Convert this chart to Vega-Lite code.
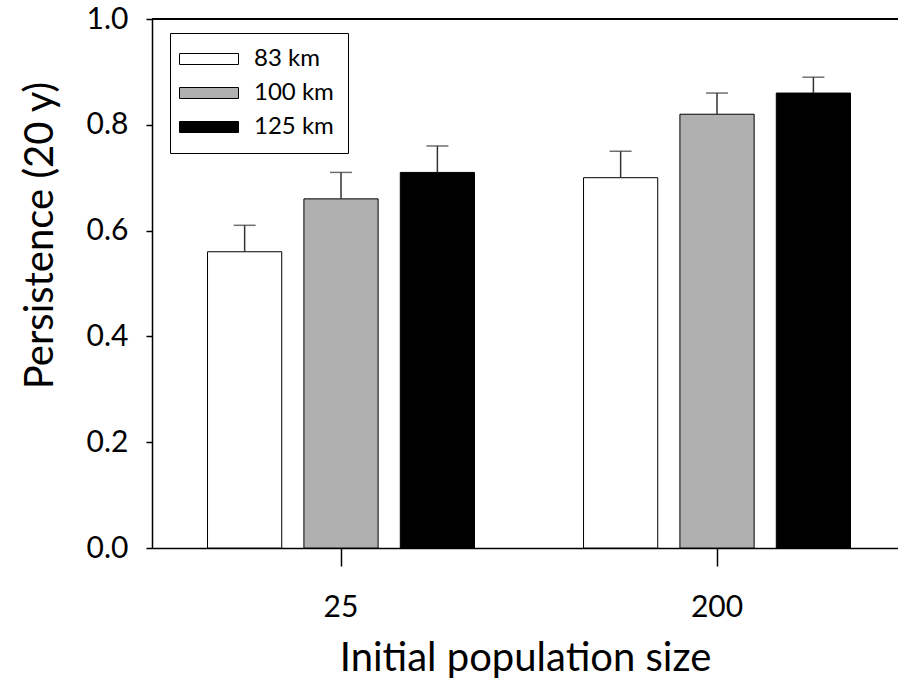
{
  "$schema": "https://vega.github.io/schema/vega-lite/v6.json",
  "width": 746,
  "height": 529,
  "autosize": {"type": "none"},
  "padding": {"left": 152, "top": 19, "right": 0, "bottom": 136},
  "config": {
    "font": "Lato",
    "view": {"stroke": null},
    "axis": {
      "domainColor": "black",
      "domainWidth": 1.5,
      "tickColor": "black",
      "tickWidth": 1.5,
      "labelColor": "black",
      "titleColor": "black",
      "labelFont": "Lato",
      "titleFont": "Lato",
      "labelFontSize": 30,
      "titleFontSize": 40,
      "titleFontWeight": "normal",
      "grid": false
    }
  },
  "data": {
    "values": [
      {"size": 25, "dist": "83 km", "value": 0.56, "upper": 0.61},
      {"size": 25, "dist": "100 km", "value": 0.66, "upper": 0.71},
      {"size": 25, "dist": "125 km", "value": 0.71, "upper": 0.76},
      {"size": 200, "dist": "83 km", "value": 0.70, "upper": 0.75},
      {"size": 200, "dist": "100 km", "value": 0.82, "upper": 0.86},
      {"size": 200, "dist": "125 km", "value": 0.86, "upper": 0.89}
    ]
  },
  "layer": [
    {
      "mark": {"type": "bar", "stroke": "black", "strokeWidth": 1},
      "encoding": {
        "x": {
          "field": "size",
          "type": "ordinal",
          "scale": {"paddingInner": 0.29, "paddingOuter": 0.137, "align": 0.539},
          "axis": {
            "title": "Initial population size",
            "labelAngle": 0,
            "tickSize": 18,
            "labelPadding": 26,
            "titlePadding": 16
          }
        },
        "xOffset": {
          "field": "dist",
          "type": "nominal",
          "sort": ["83 km", "100 km", "125 km"],
          "scale": {"paddingInner": 0.23, "paddingOuter": 0}
        },
        "y": {
          "field": "value",
          "type": "quantitative",
          "scale": {"domain": [0, 1], "nice": false},
          "axis": {
            "title": "Persistence (20 y)",
            "values": [0, 0.2, 0.4, 0.6, 0.8, 1.0],
            "format": ".1f",
            "tickSize": 6,
            "labelPadding": 18,
            "titlePadding": 26,
            "titleY": 216
          }
        },
        "fill": {
          "field": "dist",
          "type": "nominal",
          "sort": ["83 km", "100 km", "125 km"],
          "scale": {"domain": ["83 km", "100 km", "125 km"], "range": ["white", "#b0b0b0", "black"]},
          "legend": {
            "title": null,
            "orient": "none",
            "legendX": 18,
            "legendY": 14,
            "padding": 14,
            "strokeColor": "black",
            "fillColor": "white",
            "symbolType": "M-3,-1H7.73V1H-3Z",
            "symbolSize": 121,
            "symbolStrokeColor": "black",
            "symbolStrokeWidth": 1,
            "labelFont": "Lato",
            "labelFontSize": 24,
            "labelColor": "black",
            "labelOffset": 46,
            "labelExpr": "datum.label + '     '",
            "rowPadding": 10
          }
        }
      }
    },
    {
      "mark": {"type": "rule", "color": "#333333", "strokeWidth": 1.5},
      "encoding": {
        "x": {"field": "size", "type": "ordinal"},
        "xOffset": {"field": "dist", "type": "nominal", "sort": ["83 km", "100 km", "125 km"]},
        "y": {"field": "value", "type": "quantitative"},
        "y2": {"field": "upper"}
      }
    },
    {
      "mark": {"type": "tick", "color": "#333333", "thickness": 1.5, "size": 22},
      "encoding": {
        "x": {"field": "size", "type": "ordinal"},
        "xOffset": {"field": "dist", "type": "nominal", "sort": ["83 km", "100 km", "125 km"]},
        "y": {"field": "upper", "type": "quantitative"}
      }
    },
    {
      "mark": {"type": "rule", "color": "black", "strokeWidth": 1.5},
      "encoding": {
        "y": {"datum": 1}
      }
    }
  ]
}
